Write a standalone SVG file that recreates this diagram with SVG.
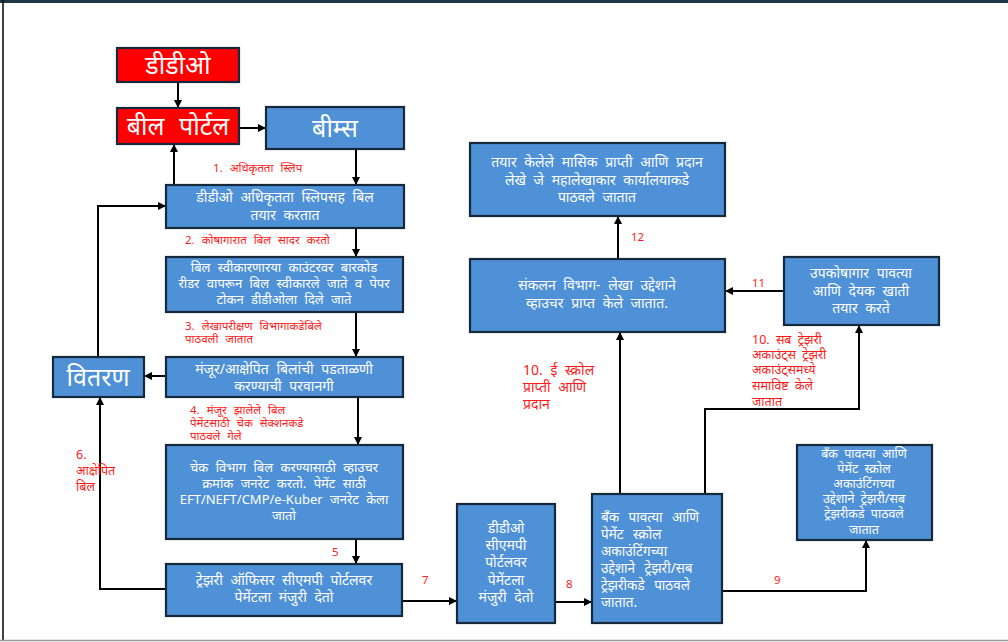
<svg xmlns="http://www.w3.org/2000/svg" width="1008" height="642" viewBox="0 0 1008 642">
  <defs>
    <marker id="arrow" markerWidth="8" markerHeight="8" refX="7" refY="4" orient="auto" markerUnits="userSpaceOnUse">
      <path d="M0,0 L8,4 L0,8 Z" fill="#000"/>
    </marker>
  </defs>
  <style>
    .box { fill: #4f91d7; stroke: #15293b; stroke-width: 2.2; }
    .red { fill: #ff0000; stroke: #15293b; stroke-width: 2.2; }
    .t { font-family: "Noto Sans", "Liberation Sans", sans-serif; fill: #ffffff; text-anchor: middle; word-spacing: 4px; }
    .tl { font-family: "Noto Sans", "Liberation Sans", sans-serif; fill: #ffffff; word-spacing: 6px; font-size: 13.5px; }
    .lbl { font-family: "Noto Sans", "Liberation Sans", sans-serif; fill: #ff1a1a; font-size: 11.5px; word-spacing: 4px; }
    .lbl2 { font-size: 12.5px; word-spacing: 3px; }
    .big { font-size: 25px; word-spacing: 8px; }
    .mid { font-size: 14px; }
    .sm { font-size: 13px; }
    .xs { font-size: 12.5px; word-spacing: 3px; }
    .conn { fill: none; stroke: #000; stroke-width: 2; }
  </style>

  <!-- page frame -->
  <rect x="0" y="0" width="1008" height="642" fill="#ffffff"/>
  <rect x="0" y="0" width="1008" height="3" fill="#1e3646"/>
  <line x1="3" y1="0" x2="3" y2="641" stroke="#111" stroke-width="1.6"/>
  <line x1="0" y1="640.5" x2="1008" y2="640.5" stroke="#9a9a9a" stroke-width="1.5"/>

  <!-- connectors -->
  <g id="connectors">
    <line class="conn" x1="178" y1="82" x2="178" y2="107" marker-end="url(#arrow)"/>
    <line class="conn" x1="239" y1="128" x2="265" y2="128" marker-end="url(#arrow)"/>
    <line class="conn" x1="356" y1="149" x2="356" y2="184" marker-end="url(#arrow)"/>
    <line class="conn" x1="174" y1="185" x2="174" y2="145" marker-end="url(#arrow)"/>
    <polyline class="conn" points="98,357 98,206 165,206" marker-end="url(#arrow)"/>
    <line class="conn" x1="356" y1="228" x2="356" y2="256" marker-end="url(#arrow)"/>
    <line class="conn" x1="356" y1="312" x2="356" y2="356" marker-end="url(#arrow)"/>
    <line class="conn" x1="166" y1="376" x2="145" y2="376" marker-end="url(#arrow)"/>
    <line class="conn" x1="358" y1="397" x2="358" y2="444" marker-end="url(#arrow)"/>
    <line class="conn" x1="356" y1="539" x2="356" y2="563" marker-end="url(#arrow)"/>
    <polyline class="conn" points="166,589 100,589 100,398" marker-end="url(#arrow)"/>
    <line class="conn" x1="402" y1="601" x2="456" y2="601" marker-end="url(#arrow)"/>
    <line class="conn" x1="555" y1="602" x2="591" y2="602" marker-end="url(#arrow)"/>
    <polyline class="conn" points="722,591 866,591 866,541" marker-end="url(#arrow)"/>
    <line class="conn" x1="620" y1="494" x2="620" y2="333" marker-end="url(#arrow)"/>
    <polyline class="conn" points="705,494 705,409 859,409 859,326" marker-end="url(#arrow)"/>
    <line class="conn" x1="784" y1="291" x2="726" y2="291" marker-end="url(#arrow)"/>
    <line class="conn" x1="618" y1="259" x2="618" y2="217" marker-end="url(#arrow)"/>
  </g>

  <!-- connector labels -->
  <g id="labels">
    <text class="lbl" x="213" y="172">1. अधिकृतता स्लिप</text>
    <text class="lbl" x="185" y="244">2. कोषागारात बिल सादर करतो</text>
    <text class="lbl" x="185" y="330">3. लेखापरीक्षण विभागाकडेबिले</text>
    <text class="lbl" x="185" y="343">पाठवली जातात</text>
    <text class="lbl" x="190" y="414">4. मंजूर झालेले बिल</text>
    <text class="lbl" x="190" y="427">पेमेंटसाठी चेक सेक्शनकडे</text>
    <text class="lbl" x="190" y="440">पाठवले गेले</text>
    <text class="lbl" x="332" y="556">5</text>
    <text class="lbl lbl2" x="76" y="459">6.</text>
    <text class="lbl lbl2" x="76" y="475">आक्षेपित</text>
    <text class="lbl lbl2" x="76" y="491">बिल</text>
    <text class="lbl" x="422" y="584">7</text>
    <text class="lbl" x="566" y="588">8</text>
    <text class="lbl" x="774" y="584">9</text>
    <text class="lbl" style="font-size:14px" x="523" y="375">10. ई स्क्रोल</text>
    <text class="lbl" style="font-size:14px" x="523" y="392">प्राप्ती आणि</text>
    <text class="lbl" style="font-size:14px" x="523" y="409">प्रदान</text>
    <text class="lbl lbl2" x="752" y="344">10. सब ट्रेझरी</text>
    <text class="lbl lbl2" x="752" y="359">अकाउंट्स ट्रेझरी</text>
    <text class="lbl lbl2" x="752" y="374">अकाउंट्समध्ये</text>
    <text class="lbl lbl2" x="752" y="390">समाविष्ट केले</text>
    <text class="lbl lbl2" x="752" y="406">जातात</text>
    <text class="lbl" x="752" y="287">11</text>
    <text class="lbl" x="631" y="241">12</text>
  </g>

  <g id="ddo">
    <rect class="red" x="117" y="48" width="122" height="34"/>
    <text class="t big" x="178" y="74">डीडीओ</text>
  </g>
  <g id="bill-portal">
    <rect class="red" x="117" y="108" width="122" height="36"/>
    <text class="t big" x="178" y="135">बील पोर्टल</text>
  </g>
  <g id="beams">
    <rect class="box" x="266" y="107" width="138" height="42"/>
    <text class="t big" x="335" y="137">बीम्स</text>
  </g>
  <g id="prepare-bill">
    <rect class="box" x="166" y="185" width="238" height="43"/>
    <text class="t mid" x="285" y="202">डीडीओ अधिकृतता स्लिपसह बिल</text>
    <text class="t mid" x="285" y="220">तयार करतात</text>
  </g>
  <g id="counter">
    <rect class="box" x="166" y="257" width="237" height="55"/>
    <text class="t sm" x="284" y="272">बिल स्वीकारणारया काउंटरवर बारकोड</text>
    <text class="t sm" x="284" y="288">रीडर वापरून बिल स्वीकारले जाते व पेपर</text>
    <text class="t sm" x="284" y="304">टोकन डीडीओला दिले जाते</text>
  </g>
  <g id="verify">
    <rect class="box" x="166" y="357" width="237" height="40"/>
    <text class="t mid" x="284" y="374">मंजूर/आक्षेपित बिलांची पडताळणी</text>
    <text class="t mid" x="284" y="391">करण्याची परवानगी</text>
  </g>
  <g id="vitaran">
    <rect class="box" x="53" y="357" width="91" height="40"/>
    <text class="t big" x="98" y="386">वितरण</text>
  </g>
  <g id="cheque-section">
    <rect class="box" x="166" y="445" width="237" height="94"/>
    <text class="t sm" x="284" y="472">चेक विभाग बिल करण्यासाठी व्हाउचर</text>
    <text class="t sm" x="284" y="488">क्रमांक जनरेट करतो. पेमेंट साठी</text>
    <text class="t sm" x="284" y="504">EFT/NEFT/CMP/e-Kuber जनरेट केला</text>
    <text class="t sm" x="284" y="520">जातो</text>
  </g>
  <g id="treasury-officer">
    <rect class="box" x="166" y="564" width="236" height="52"/>
    <text class="t mid" x="284" y="585">ट्रेझरी ऑफिसर सीएमपी पोर्टलवर</text>
    <text class="t mid" x="284" y="602">पेमेंटला मंजुरी देतो</text>
  </g>
  <g id="ddo-cmp">
    <rect class="box" x="457" y="504" width="98" height="119"/>
    <text class="t mid" x="506" y="533">डीडीओ</text>
    <text class="t mid" x="506" y="550">सीएमपी</text>
    <text class="t mid" x="506" y="567">पोर्टलवर</text>
    <text class="t mid" x="506" y="585">पेमेंटला</text>
    <text class="t mid" x="506" y="602">मंजुरी देतो</text>
  </g>
  <g id="bank-receipts">
    <rect class="box" x="592" y="494" width="130" height="129"/>
    <text class="tl" x="601" y="522">बॅंक पावत्या आणि</text>
    <text class="tl" x="601" y="539">पेमेंट स्क्रोल</text>
    <text class="tl" x="601" y="556">अकाउंटिंगच्या</text>
    <text class="tl" x="601" y="573">उद्देशाने ट्रेझरी/सब</text>
    <text class="tl" x="601" y="590">ट्रेझरीकडे पाठवले</text>
    <text class="tl" x="601" y="607">जातात.</text>
  </g>
  <g id="bank-receipts-sub">
    <rect class="box" x="797" y="445" width="135" height="95"/>
    <text class="t xs" x="864" y="458">बॅंक पावत्या आणि</text>
    <text class="t xs" x="864" y="473">पेमेंट स्क्रोल</text>
    <text class="t xs" x="864" y="488">अकाउंटिंगच्या</text>
    <text class="t xs" x="864" y="503">उद्देशाने ट्रेझरी/सब</text>
    <text class="t xs" x="864" y="518">ट्रेझरीकडे पाठवले</text>
    <text class="t xs" x="864" y="534">जातात</text>
  </g>
  <g id="sub-treasury">
    <rect class="box" x="784" y="257" width="155" height="68"/>
    <text class="t mid" x="861" y="278">उपकोषागार पावत्या</text>
    <text class="t mid" x="861" y="296">आणि देयक खाती</text>
    <text class="t mid" x="861" y="313">तयार करते</text>
  </g>
  <g id="compilation">
    <rect class="box" x="470" y="259" width="255" height="73"/>
    <text class="t mid" x="597" y="290">संकलन विभाग- लेखा उद्देशाने</text>
    <text class="t mid" x="597" y="308">व्हाउचर प्राप्त केले जातात.</text>
  </g>
  <g id="monthly-accounts">
    <rect class="box" x="470" y="143" width="255" height="73"/>
    <text class="t mid" x="597" y="167">तयार केलेले मासिक प्राप्ती आणि प्रदान</text>
    <text class="t mid" x="597" y="185">लेखे जे महालेखाकार कार्यालयाकडे</text>
    <text class="t mid" x="597" y="202">पाठवले जातात</text>
  </g>
</svg>
